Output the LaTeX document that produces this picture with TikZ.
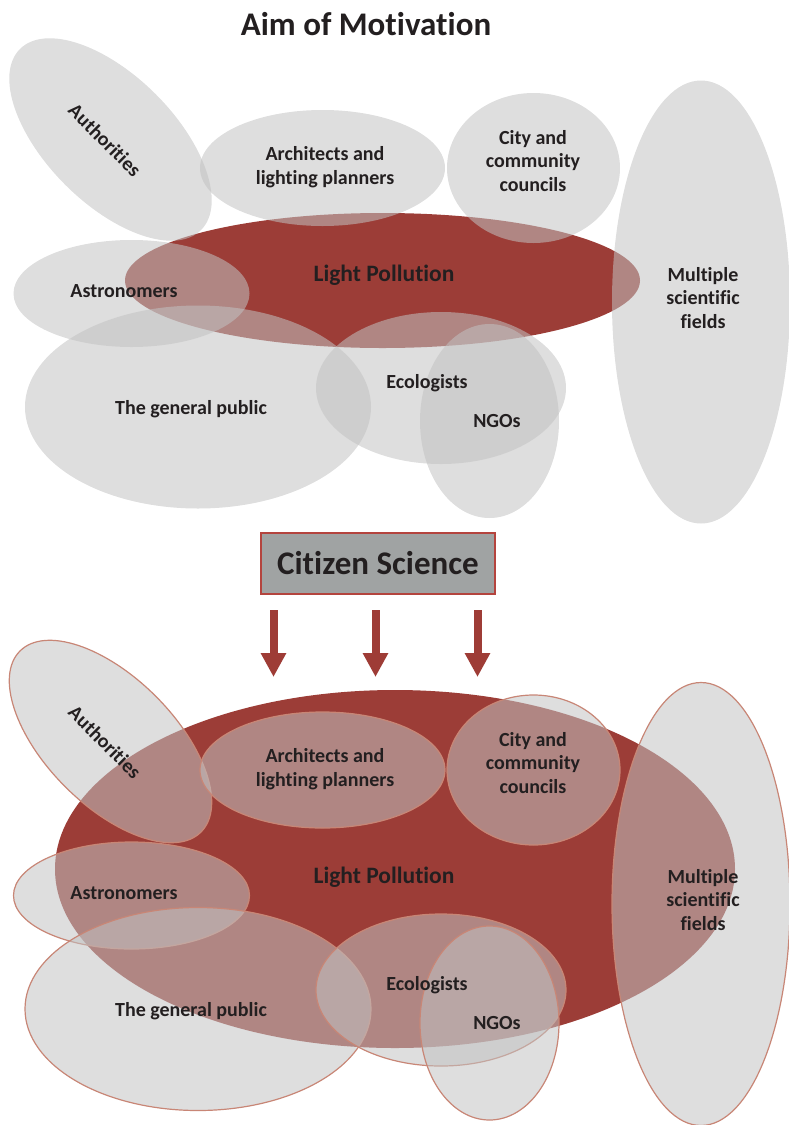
\documentclass[tikz,border=0pt]{standalone}
\usepackage{fontspec}
\setmainfont{Carlito}[Ligatures={NoCommon}]
\usetikzlibrary{arrows.meta}
\definecolor{lpred}{HTML}{9C3D37}
\definecolor{ellgray}{HTML}{C2C2C2}
\definecolor{ellborder}{HTML}{C88676}
\definecolor{txt}{HTML}{231F20}
\definecolor{boxgray}{HTML}{A0A3A3}
\definecolor{boxborder}{HTML}{B4443E}
\definecolor{arrowred}{HTML}{9E3C36}

\newcommand\myellipses[1]{%
  \begin{scope}[shift={(110.5,139.5)},rotate=-45]
    \path[#1] (0,0) ellipse (128pt and 64pt);
  \end{scope}
  \path[#1] (322.5,168) ellipse (122.5pt and 58pt);
  \path[#1] (533.5,168) ellipse (86.5pt and 75pt);
  \path[#1] (701,302) ellipse (89pt and 221.5pt);
  \path[#1] (131.5,293.5) ellipse (118pt and 53.5pt);
  \path[#1] (198,407) ellipse (173pt and 101.5pt);
  \path[#1] (441,388) ellipse (125pt and 76pt);
  \path[#1] (489.5,421) ellipse (69.5pt and 97pt);
}

\newcommand\mylabels[1]{%
  \node[lbl, rotate=-45] (auth#1) at (105,140) {Authorities};
  \node[lbl] (arch#1) at (325,167) {Architects and\\lighting planners};
  \node[lbl] (city#1) at (533,161) {City and\\community\\councils};
  \node[lbl, font=\bfseries\fontsize{23.5}{27}\selectfont] (lp#1) at (384,275) {Light Pollution};
  \node[lbl] (msf#1) at (703,298) {Multiple\\scientific\\fields};
  \node[lbl] (astr#1) at (124,291) {Astronomers};
  \node[lbl] (pub#1) at (191,409) {The general public};
  \node[lbl] (eco#1) at (427,383) {Ecologists};
  \node[lbl] (ngo#1) at (497,421) {NGOs};
}

\begin{document}
\begin{tikzpicture}[x=1pt,y=-1pt,
  lbl/.style={font=\bfseries\fontsize{20}{23.5}\selectfont, text=txt, align=center, inner sep=0pt},
  grayfill/.style={fill=ellgray, fill opacity=0.55},
  grayborder/.style={fill=ellgray, fill opacity=0.55, draw=ellborder, draw opacity=1, line width=1.2pt},
  bigarrow/.style={draw=arrowred, line width=8pt, -{Triangle[width=24pt,length=24pt,fill=arrowred]}}
]
\useasboundingbox (0,0) rectangle (788,1125);

% title
\node[font=\bfseries\fontsize{33}{38}\selectfont, text=txt, inner sep=0pt] (title) at (366,24) {Aim of Motivation};

% top half
\fill[lpred] (382.5,280.5) ellipse (257.5pt and 67.5pt);
\myellipses{grayfill}
\mylabels{a}

% citizen science box
\node[draw=boxborder, line width=1.5pt, fill=boxgray, minimum width=234pt, minimum height=61pt,
      font=\bfseries\fontsize{33}{38}\selectfont, text=txt, inner sep=0pt] (cs) at (378,563.5) {Citizen Science};

\coordinate (s1) at (273.5,610); \coordinate (e1) at (273.5,677);
\coordinate (s2) at (375.5,610); \coordinate (e2) at (375.5,677);
\coordinate (s3) at (477.5,610); \coordinate (e3) at (477.5,677);
\draw[bigarrow] (s1) -- (e1);
\draw[bigarrow] (s2) -- (e2);
\draw[bigarrow] (s3) -- (e3);

% bottom half
\fill[lpred] (395,869) ellipse (340pt and 179pt);
\begin{scope}[shift={(0,602)}]
  \myellipses{grayborder}
  \mylabels{b}
\end{scope}
\end{tikzpicture}
\end{document}
